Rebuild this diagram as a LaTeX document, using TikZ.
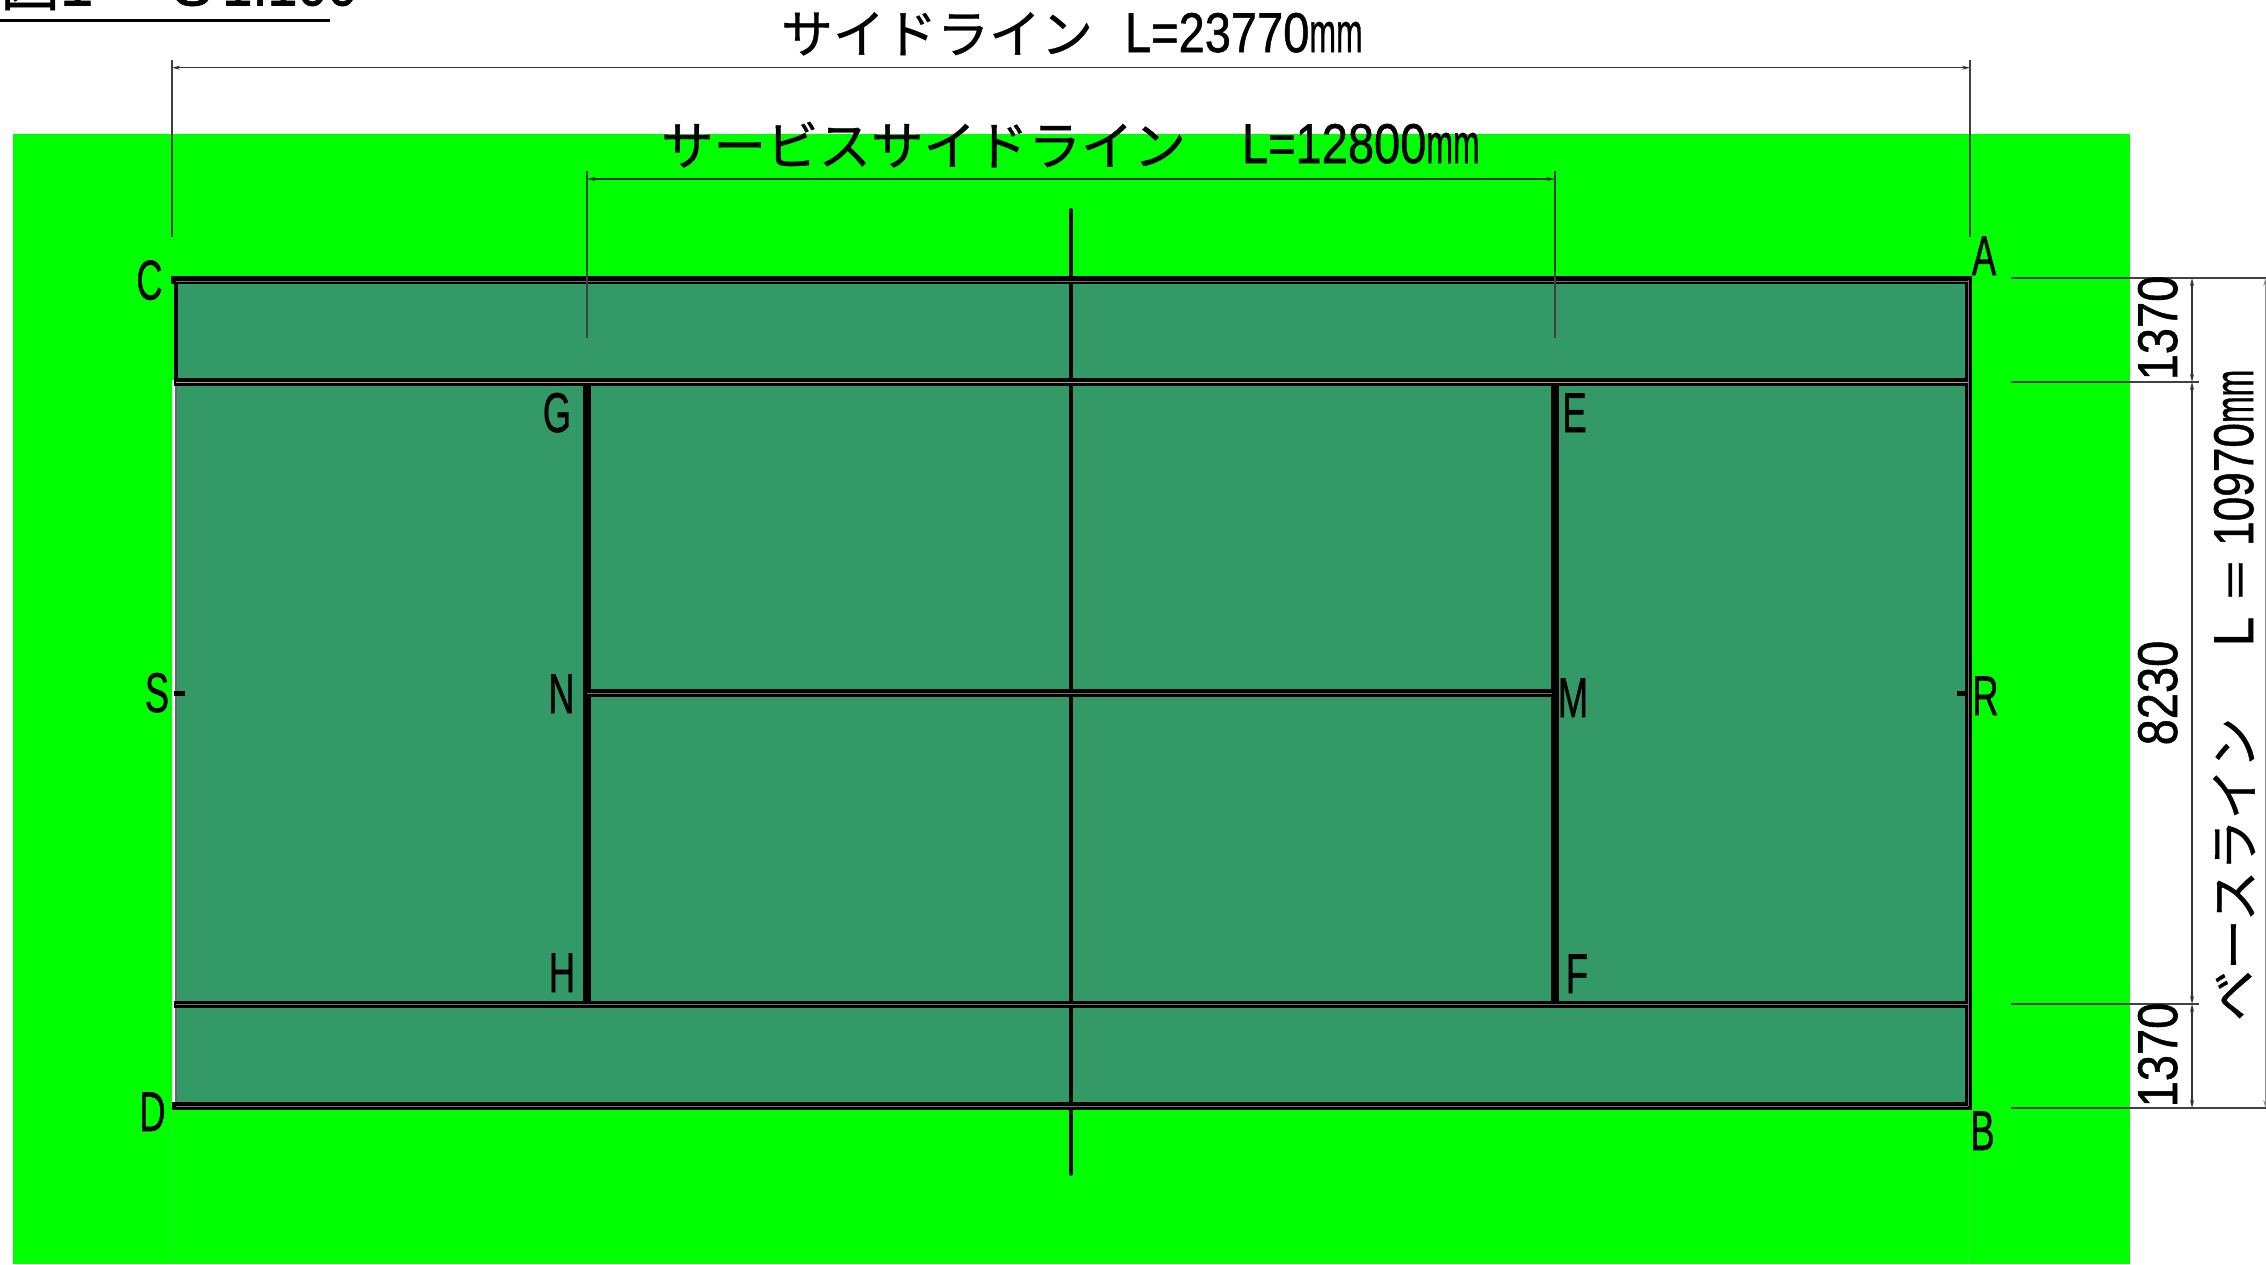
\documentclass[tikz,border=0pt]{standalone}
\usepackage{graphicx}
\usepackage{fontspec}
\setmainfont{Liberation Sans}[RawFeature={embolden=1.0}]
\newfontfamily\jpfont{Noto Sans CJK JP}[RawFeature={embolden=0.7}]
\usetikzlibrary{arrows.meta}
\definecolor{grass}{RGB}{0,255,0}
\definecolor{courtgreen}{RGB}{51,153,102}
\newcommand{\latnar}[1]{\scalebox{.84}[1]{#1}}
\newcommand{\latnarb}[1]{\scalebox{.79}[1]{#1}}
\newcommand{\mmnar}{\scalebox{.57}[1]{mm}}
\newcommand{\ltr}[1]{\scalebox{.65}[1]{#1}}
\tikzset{
  base/.style={inner sep=0pt,outer sep=0pt},
  pointlabel/.style={base,anchor=base,font=\fontsize{56pt}{60pt}\selectfont},
  dimtext/.style={base,anchor=base west,font=\fontsize{56pt}{60pt}\selectfont},
  numtext/.style={base,anchor=base,rotate=90,font=\fontsize{56pt}{60pt}\selectfont},
  courtline/.style={line width=7.4pt,draw=black,line cap=butt},
  hair/.style={line width=.6pt,draw=black!55},
  dimline/.style={line width=1.2pt,draw=black!80,{Stealth[length=8pt,width=4pt]}-{Stealth[length=8pt,width=4pt]}},
  extline/.style={line width=1.2pt,draw=black!75},
  faint/.style={line width=.8pt,draw=white,opacity=.12}
}
\begin{document}
\begin{tikzpicture}[x=1pt,y=-1pt]
\useasboundingbox (0,0) rectangle (2266,1264);
\fill[white] (0,0) rectangle (2266,1264);
% court grid
\coordinate (TLo) at (171,280);
\coordinate (TRo) at (1972,280);
\coordinate (AL) at (174,382);
\coordinate (AR) at (1968,382);
\coordinate (BL) at (174,1004.5);
\coordinate (BR) at (1968,1004.5);
\coordinate (DLo) at (172,1106);
\coordinate (DRo) at (1972,1106);
\coordinate (G) at (587,382);
\coordinate (H) at (587,1004.5);
\coordinate (E) at (1555,382);
\coordinate (F) at (1555,1004.5);
\coordinate (N) at (587,693);
\coordinate (M) at (1555,693);
\coordinate (CT) at (1071,210);
\coordinate (CB) at (1071,1174);
\coordinate (RT) at (1968.5,276.5);
\coordinate (RB) at (1968.5,1110);
% grass and court
\fill[grass] (13,134) rectangle (2130,1264);
\fill[courtgreen] (176.5,280) rectangle (1968,1106);
% faint continuation of the extension lines
\draw[faint] (172,1110) -- (172,1264);
\draw[faint] (1969,1110) -- (1969,1264);
% left sideline
\draw[line width=2.7pt,white] (173.3,380) -- (173.3,1104);
\draw[line width=2pt,black!60] (175.7,384) -- (175.7,1102);
\draw[line width=4pt,black] (176,280) -- (176,384);
% court lines
\draw[courtline] (RT) -- (RB);
\draw[courtline] (TLo) -- (TRo);
\draw[courtline] (AL) -- (AR);
\draw[courtline] (BL) -- (BR);
\draw[courtline] (DLo) -- (DRo);
\draw[courtline] (G) -- (H);
\draw[courtline] (E) -- (F);
\draw[courtline] (N) -- (M);
\draw[line width=5pt,black] (174,693) -- (185,693);
\draw[line width=5pt,black] (1957,693) -- (1966,693);
\draw[line width=3.6pt,black,line cap=round] (CT) -- (CB);
% hairlines inside the doubled lines
\draw[hair] (176,281.5) -- (1968,281.5);
\draw[hair,draw=black!35] (176,382) -- (1968,382);
\draw[hair] (176,1004.5) -- (1968,1004.5);
\draw[hair] (176,1106) -- (1968,1106);
\draw[hair] (587,693) -- (1552,693);
\draw[hair] (1968.5,280) -- (1968.5,1106);
% dimension lines: top
\coordinate (a1) at (172,60);
\coordinate (a2) at (172,237);
\coordinate (a3) at (1970,60);
\coordinate (a4) at (1970,237);
\coordinate (a5) at (172,67.7);
\coordinate (a6) at (1970,67.7);
\draw[extline] (a1) -- (a2);
\draw[extline] (a3) -- (a4);
\draw[dimline] (a5) -- (a6);
\coordinate (b1) at (587,171);
\coordinate (b2) at (587,338);
\coordinate (b3) at (1555,171);
\coordinate (b4) at (1555,338);
\coordinate (b5) at (587,179);
\coordinate (b6) at (1555,179);
\draw[extline] (b1) -- (b2);
\draw[extline] (b3) -- (b4);
\draw[dimline] (b5) -- (b6);
% dimension lines: right
\coordinate (r1) at (2011,278);
\coordinate (r1e) at (2266,278);
\coordinate (r2) at (2011,382);
\coordinate (r2e) at (2199,382);
\coordinate (r3) at (2011,1004);
\coordinate (r3e) at (2199,1004);
\coordinate (r4) at (2011,1108);
\coordinate (r4e) at (2266,1108);
\draw[extline] (r1) -- (r1e);
\draw[extline] (r2) -- (r2e);
\draw[extline] (r3) -- (r3e);
\draw[extline] (r4) -- (r4e);
\coordinate (v1) at (2192,278);
\coordinate (v2) at (2192,382);
\coordinate (v3) at (2192,1004);
\coordinate (v4) at (2192,1108);
\draw[dimline] (v1) -- (v2);
\draw[dimline] (v2) -- (v3);
\draw[dimline] (v3) -- (v4);
\coordinate (w1) at (2265.3,278);
\coordinate (w2) at (2265.3,1108);
\draw[dimline,draw=black!45] (w1) -- (w2);
% title, cut by the page top
\coordinate (u1) at (0,20);
\coordinate (u2) at (330,20);
\draw[line width=3pt,black] (u1) -- (u2);
\node[base,anchor=base west,font=\fontsize{60pt}{64pt}\selectfont] (title) at (0,5.5)
  {{\jpfont 図}1\hspace{79pt}S\hspace{10pt}\scalebox{.9}[1]{1:100}};
% labels
\node[pointlabel] (lA) at (1984,275) {\ltr{A}};
\node[pointlabel] (lB) at (1982.5,1150) {\ltr{B}};
\node[pointlabel] (lC) at (149.5,299.5) {\ltr{C}};
\node[pointlabel] (lD) at (152.5,1131) {\ltr{D}};
\node[pointlabel] (lE) at (1574.5,432) {\ltr{E}};
\node[pointlabel] (lF) at (1577,993) {\ltr{F}};
\node[pointlabel] (lG) at (557,432) {\ltr{G}};
\node[pointlabel] (lH) at (562,992) {\ltr{H}};
\node[pointlabel] (lM) at (1573,717) {\ltr{M}};
\node[pointlabel] (lN) at (561.5,713) {\ltr{N}};
\node[pointlabel] (lR) at (1985.5,715) {\ltr{R}};
\node[pointlabel] (lS) at (157,712) {\ltr{S}};
% dimension texts
\node[dimtext] (side) at (781,52) {\raisebox{-1pt}{\jpfont\fontsize{52pt}{56pt}\selectfont サイドライン}\hspace{32pt}\latnar{L=23770}\mmnar};
\node[dimtext] (service) at (661,163) {\raisebox{-2pt}{\jpfont\fontsize{52.5pt}{56pt}\selectfont サービスサイドライン}\hspace{56pt}\latnar{L=12800}\mmnar};
\node[numtext] (n1) at (2177,328) {\latnar{1370}};
\node[numtext] (n2) at (2177,693) {\latnar{8230}};
\node[numtext] (n3) at (2177,1055) {\latnar{1370}};
\node[base,rotate=90,anchor=base west,font=\fontsize{56pt}{60pt}\selectfont] (base) at (2253,1021)
  {{\jpfont\fontsize{51pt}{56pt}\selectfont ベースライン}\hspace{71pt}\scalebox{.95}[1]{L}\hspace{14pt}{\jpfont\fontsize{46pt}{50pt}\selectfont ＝}\hspace{11pt}\latnarb{10970}\mmnar};
\end{tikzpicture}
\end{document}
